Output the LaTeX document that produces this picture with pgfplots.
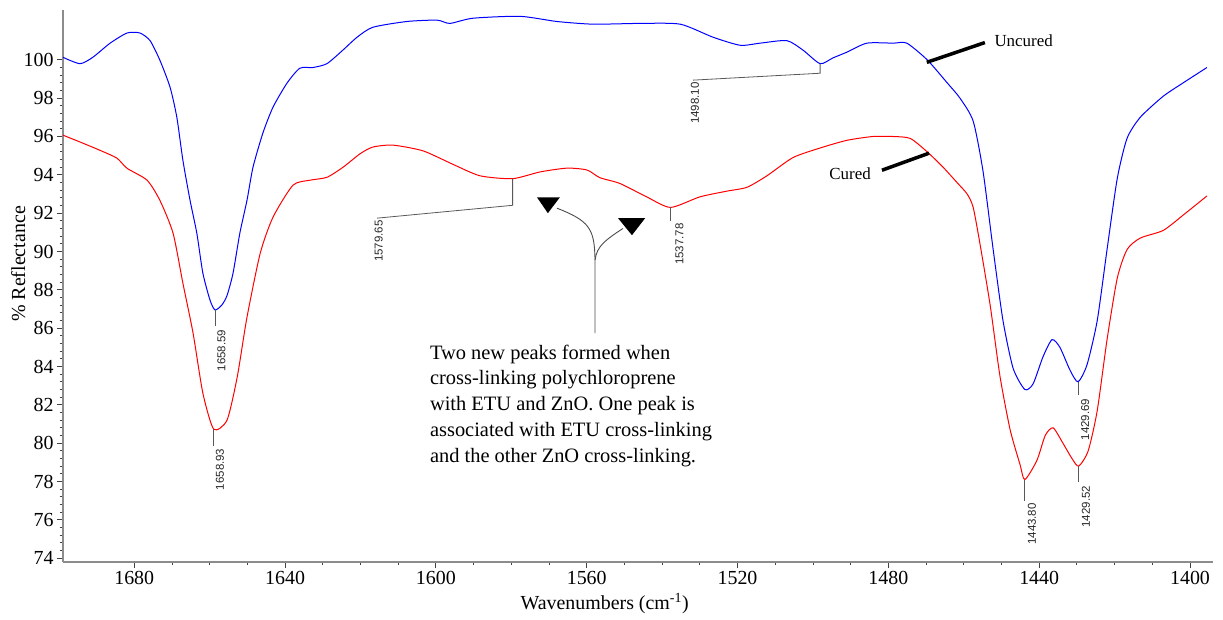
\documentclass[border=0pt]{standalone}
\usepackage{fontspec}
\setmainfont{Liberation Serif}
\newfontfamily\labsans{Liberation Sans}
\usepackage{pgfplots}
\pgfplotsset{compat=1.18}
\begin{document}
\begin{tikzpicture}
\begin{axis}[
  name=ax,
  scale only axis, width=1150bp, height=552bp,
  x dir=reverse, xmin=1393.9, xmax=1698.9, ymin=73.8, ymax=102.6,
  axis x line*=bottom, axis y line*=left,
  axis line style={black!45, line width=1.2bp, -},
  xtick={1400,1440,...,1680}, ytick={74,76,...,100},
  minor x tick num=3, minor y tick num=4,
  tick style={black!75, line width=0.8bp},
  major tick length=6bp, minor tick length=3bp,
  tick align=outside,
  ticklabel style={font=\fontsize{20}{24}\selectfont},
  /pgf/number format/assume math mode=true,
  /pgf/number format/1000 sep={},
  xlabel={Wavenumbers (cm\textsuperscript{-1})},
  ylabel={\% Reflectance},
  label style={font=\fontsize{20}{24}\selectfont},
  xlabel style={at={(axis description cs:0.471,-0.075)}, anchor=center},
  ylabel style={at={(axis description cs:-0.039,0.54)}, anchor=center},
  clip=false,
]
% Uncured
\addplot[blue, line width=1bp, smooth, tension=0.4] coordinates {
(1698.9,100.13) (1694.4,99.8) (1691.0,100.13) (1686.4,100.87) (1681.9,101.4)
(1678.5,101.4) (1675.8,101.0) (1673.2,99.98) (1670.5,98.57) (1668.7,97.0)
(1667.1,94.76) (1665.2,92.67) (1663.4,90.95) (1661.8,88.87) (1659.9,87.46)
(1658.59,86.95) (1656.8,87.2) (1655.4,87.7) (1653.8,88.87) (1652.0,90.95)
(1650.1,92.67) (1648.5,94.4) (1645.9,96.17) (1643.2,97.53) (1639.5,98.78)
(1636.1,99.56) (1632.6,99.6) (1628.9,99.8) (1624.7,100.5) (1620.9,101.18)
(1616.7,101.7) (1607.7,102.0) (1599.7,102.07) (1596.3,101.9) (1590.2,102.17)
(1577.7,102.27) (1567.9,102.0) (1558.3,101.86) (1545.9,101.9) (1535.2,101.86)
(1526.5,101.18) (1519.3,100.76) (1514.0,100.87) (1506.9,101.0) (1502.6,100.5)
(1498.1,99.8) (1494.7,100.1) (1491.0,100.4) (1485.7,100.87) (1478.7,100.87)
(1475.1,100.87) (1469.7,100.0) (1464.4,98.8) (1461.0,98.0) (1457.5,96.8)
(1454.9,94.2) (1452.2,90.1) (1449.6,86.4) (1446.9,83.9) (1443.8,82.8)
(1441.6,83.1) (1439.0,84.5) (1436.6,85.4) (1434.5,85.0) (1431.8,83.8)
(1429.69,83.2) (1427.3,84.1) (1424.6,86.4) (1422.0,90.1) (1419.3,93.8)
(1416.7,95.9) (1413.2,97.0) (1407.1,98.1) (1401.8,98.8) (1395.5,99.6)
};
% Cured
\addplot[red, line width=1bp, smooth, tension=0.4] coordinates {
(1698.9,96.07) (1693.6,95.65) (1689.1,95.28) (1684.6,94.87) (1681.9,94.34)
(1676.6,93.72) (1673.2,92.67) (1669.7,90.95) (1667.1,88.35) (1664.4,85.74)
(1661.8,82.61) (1658.93,80.73) (1655.4,81.2) (1652.7,83.44) (1650.1,86.57)
(1646.6,89.9) (1643.2,91.79) (1637.9,93.46) (1633.4,93.72) (1628.9,93.87)
(1624.6,94.4) (1620.1,95.1) (1616.7,95.45) (1611.4,95.55) (1603.4,95.25)
(1595.5,94.55) (1588.3,93.95) (1579.65,93.8) (1572.4,94.15) (1565.2,94.35)
(1559.9,94.25) (1556.5,93.85) (1551.2,93.55) (1544.1,92.85) (1537.78,92.3)
(1530.0,92.85) (1522.8,93.15) (1517.5,93.35) (1512.2,93.95) (1505.3,94.9)
(1498.1,95.4) (1491.0,95.8) (1484.1,96.0) (1478.8,96.0) (1474.2,95.9)
(1469.7,95.2) (1465.5,94.4) (1461.8,93.6) (1459.1,93.0) (1457.5,92.3)
(1455.7,90.4) (1453.0,87.2) (1450.4,83.5) (1447.7,80.7) (1445.1,78.9)
(1443.8,78.1) (1440.6,79.1) (1438.4,80.4) (1436.3,80.8) (1433.7,80.0)
(1431.3,79.2) (1429.52,78.8) (1427.0,79.6) (1424.6,81.7) (1422.0,85.4)
(1419.3,88.6) (1416.7,90.1) (1413.2,90.7) (1407.1,91.1) (1401.8,91.9)
(1395.5,92.9)
};
% peak leader lines
\begin{scope}[black!65, line width=0.8bp]
\draw (axis cs:1658.59,86.95) -- (axis cs:1658.59,86.1);
\draw (axis cs:1658.93,80.73) -- (axis cs:1658.93,79.85);
\draw (axis cs:1579.65,93.8) -- (axis cs:1579.65,92.41) -- (axis cs:1615.6,91.74);
\draw (axis cs:1537.78,92.3) -- (axis cs:1537.78,91.6);
\draw (axis cs:1498.1,99.8) -- (axis cs:1498.1,99.3) -- (axis cs:1531.8,98.94);
\draw (axis cs:1443.8,78.1) -- (axis cs:1443.8,77.0);
\draw (axis cs:1429.69,83.2) -- (axis cs:1429.69,82.5);
\draw (axis cs:1429.52,78.8) -- (axis cs:1429.52,77.95);
\end{scope}
% peak labels
\begin{scope}[every node/.style={rotate=90, anchor=east, inner sep=0.5bp, text=black!85, font=\labsans\fontsize{11.5}{12}\selectfont}]
\node at (axis cs:1656.9,85.95) {1658.59};
\node at (axis cs:1657.3,79.75) {1658.93};
\node at (axis cs:1615.2,91.65) {1579.65};
\node at (axis cs:1535.4,91.5) {1537.78};
\node at (axis cs:1531.3,98.85) {1498.10};
\node at (axis cs:1441.9,76.9) {1443.80};
\node at (axis cs:1427.8,82.35) {1429.69};
\node at (axis cs:1427.6,77.8) {1429.52};
\end{scope}
% Uncured / Cured labels
\draw[black, line width=3.5bp] (axis cs:1469.8,99.87) -- (axis cs:1454.4,100.9);
\node[anchor=west, inner sep=0pt, font=\fontsize{17}{20}\selectfont] at (axis cs:1451.9,101.0) {Uncured};
\draw[black, line width=3.5bp] (axis cs:1481.7,94.24) -- (axis cs:1469.2,95.13);
\node[anchor=east, inner sep=0pt, font=\fontsize{17}{20}\selectfont] at (axis cs:1484.6,94.05) {Cured};
% annotation arrows
\begin{scope}[black!70, line width=0.9bp]
\draw (axis cs:1557.8,85.74) -- (axis cs:1557.8,89.55)
  .. controls (axis cs:1557.9,91.2) and (axis cs:1559.3,91.6) .. (axis cs:1567.9,92.26);
\draw (axis cs:1557.8,89.55)
  .. controls (axis cs:1557.3,90.3) and (axis cs:1555.0,90.6) .. (axis cs:1550.4,91.2);
\end{scope}
\fill[black] (axis cs:1573.2,92.83) -- (axis cs:1567.1,92.83) -- (axis cs:1570.3,92.0) -- cycle;
\fill[black] (axis cs:1551.7,91.74) -- (axis cs:1544.5,91.74) -- (axis cs:1548.0,90.85) -- cycle;
\node[anchor=north west, align=left, inner sep=0pt, font=\fontsize{20.5}{26}\selectfont] at (axis cs:1601.6,85.15)
{Two new peaks formed when\\cross-linking polychloroprene\\with ETU and ZnO. One peak is\\associated with ETU cross-linking\\and the other ZnO cross-linking.};
\end{axis}
\pgfresetboundingbox
\path[use as bounding box] ([xshift=-63bp,yshift=-57bp]ax.south west) rectangle ([xshift=10bp,yshift=10bp]ax.north east);
\end{tikzpicture}
\end{document}
